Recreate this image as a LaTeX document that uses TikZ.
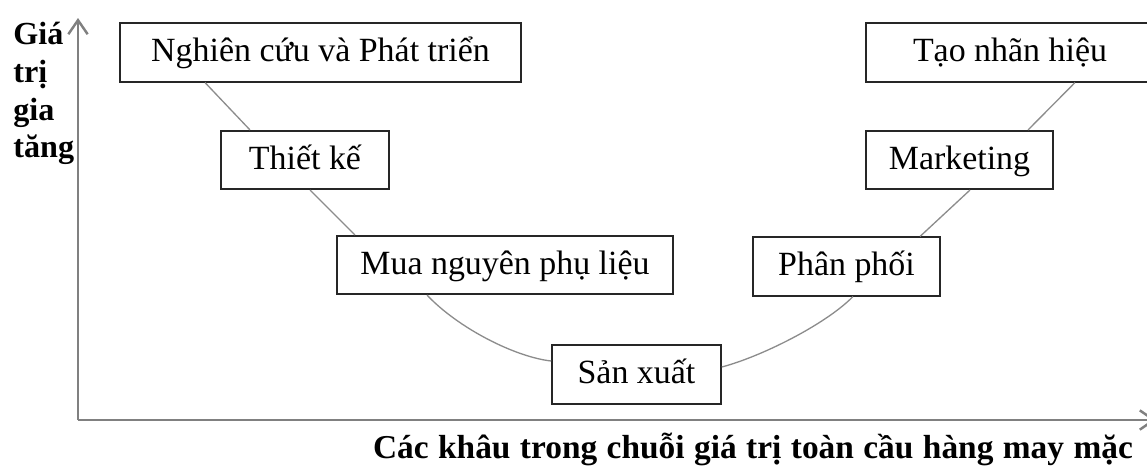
\documentclass[tikz,border=0pt]{standalone}
\usepackage{fontspec}
\setmainfont{Liberation Serif}
\usetikzlibrary{calc,arrows.meta}
\begin{document}
\begin{tikzpicture}[x=0.02cm,y=-0.02cm,
  box/.style={draw=black!85, line width=0.9pt, fill=white, inner sep=0pt,
    minimum height=1.17cm, text height=0.48cm, text depth=0.12cm,
    font=\fontsize{19.3}{22}\selectfont},
  link/.style={draw=black!45, line width=0.75pt},
  axis/.style={draw=black!50, line width=1.4pt, -{Straight Barb[length=8pt,width=11pt]}},
  lab/.style={inner sep=0pt, font=\fontsize{18.3}{20}\selectfont\bfseries}]
\useasboundingbox (0,0) rectangle (1147,467);
\clip (0,0) rectangle (1147,467);
% axes
\coordinate (o) at (78,420);
\coordinate (ytip) at (78,18);
\coordinate (xtip) at (1156,420);
\draw[axis] (o) -- (ytip);
\draw[axis] (o) -- (xtip);
% axis labels
\node[lab, anchor=base west] (l1) at (13,44) {Giá};
\node[lab, anchor=base west] (l2) at (13,82) {trị};
\node[lab, anchor=base west] (l3) at (13,120) {gia};
\node[lab, anchor=base west] (l4) at (13,157) {tăng};
\node[lab, anchor=base, font=\fontsize{19}{21}\selectfont\bfseries] (xl) at (753,458) {\makebox[15.2cm][s]{Các khâu trong chuỗi giá trị toàn cầu hàng may mặc}};
% boxes
\node[box, minimum width=8.02cm] (nc) at (320.5,52.5) {Nghiên cứu và Phát triển};
\node[box, minimum width=3.36cm] (tk) at (305,160) {Thiết kế};
\node[box, minimum width=6.72cm] (mua) at (505,265) {Mua nguyên phụ liệu};
\node[box, minimum width=3.38cm] (sx) at (636.5,374.5) {Sản xuất};
\node[box, minimum width=3.74cm] (pp) at (846.5,266.5) {Phân phối};
\node[box, minimum width=3.74cm] (mk) at (959.5,160) {Marketing};
\node[box, minimum width=5.76cm] (tao) at (1010,52.5) {Tạo nhãn hiệu};
% connectors
\draw[link] ($(nc.south)+(-115.5,0)$) -- ($(tk.north)+(-55,0)$);
\draw[link] ($(tk.south)+(5,0)$) -- ($(mua.north)+(-150,0)$);
\draw[link] ($(mua.south)+(-78,0)$) .. controls (458,328) and (515,357) .. ($(sx.west)+(0,-13.5)$);
\draw[link] ($(sx.east)+(0,-7.5)$) .. controls (760,357) and (825,325) .. ($(pp.south)+(6.5,0)$);
\draw[link] ($(pp.north)+(73.5,0)$) -- ($(mk.south)+(10.5,0)$);
\draw[link] ($(mk.north)+(68.5,0)$) -- ($(tao.south)+(65,0)$);
\end{tikzpicture}
\end{document}
